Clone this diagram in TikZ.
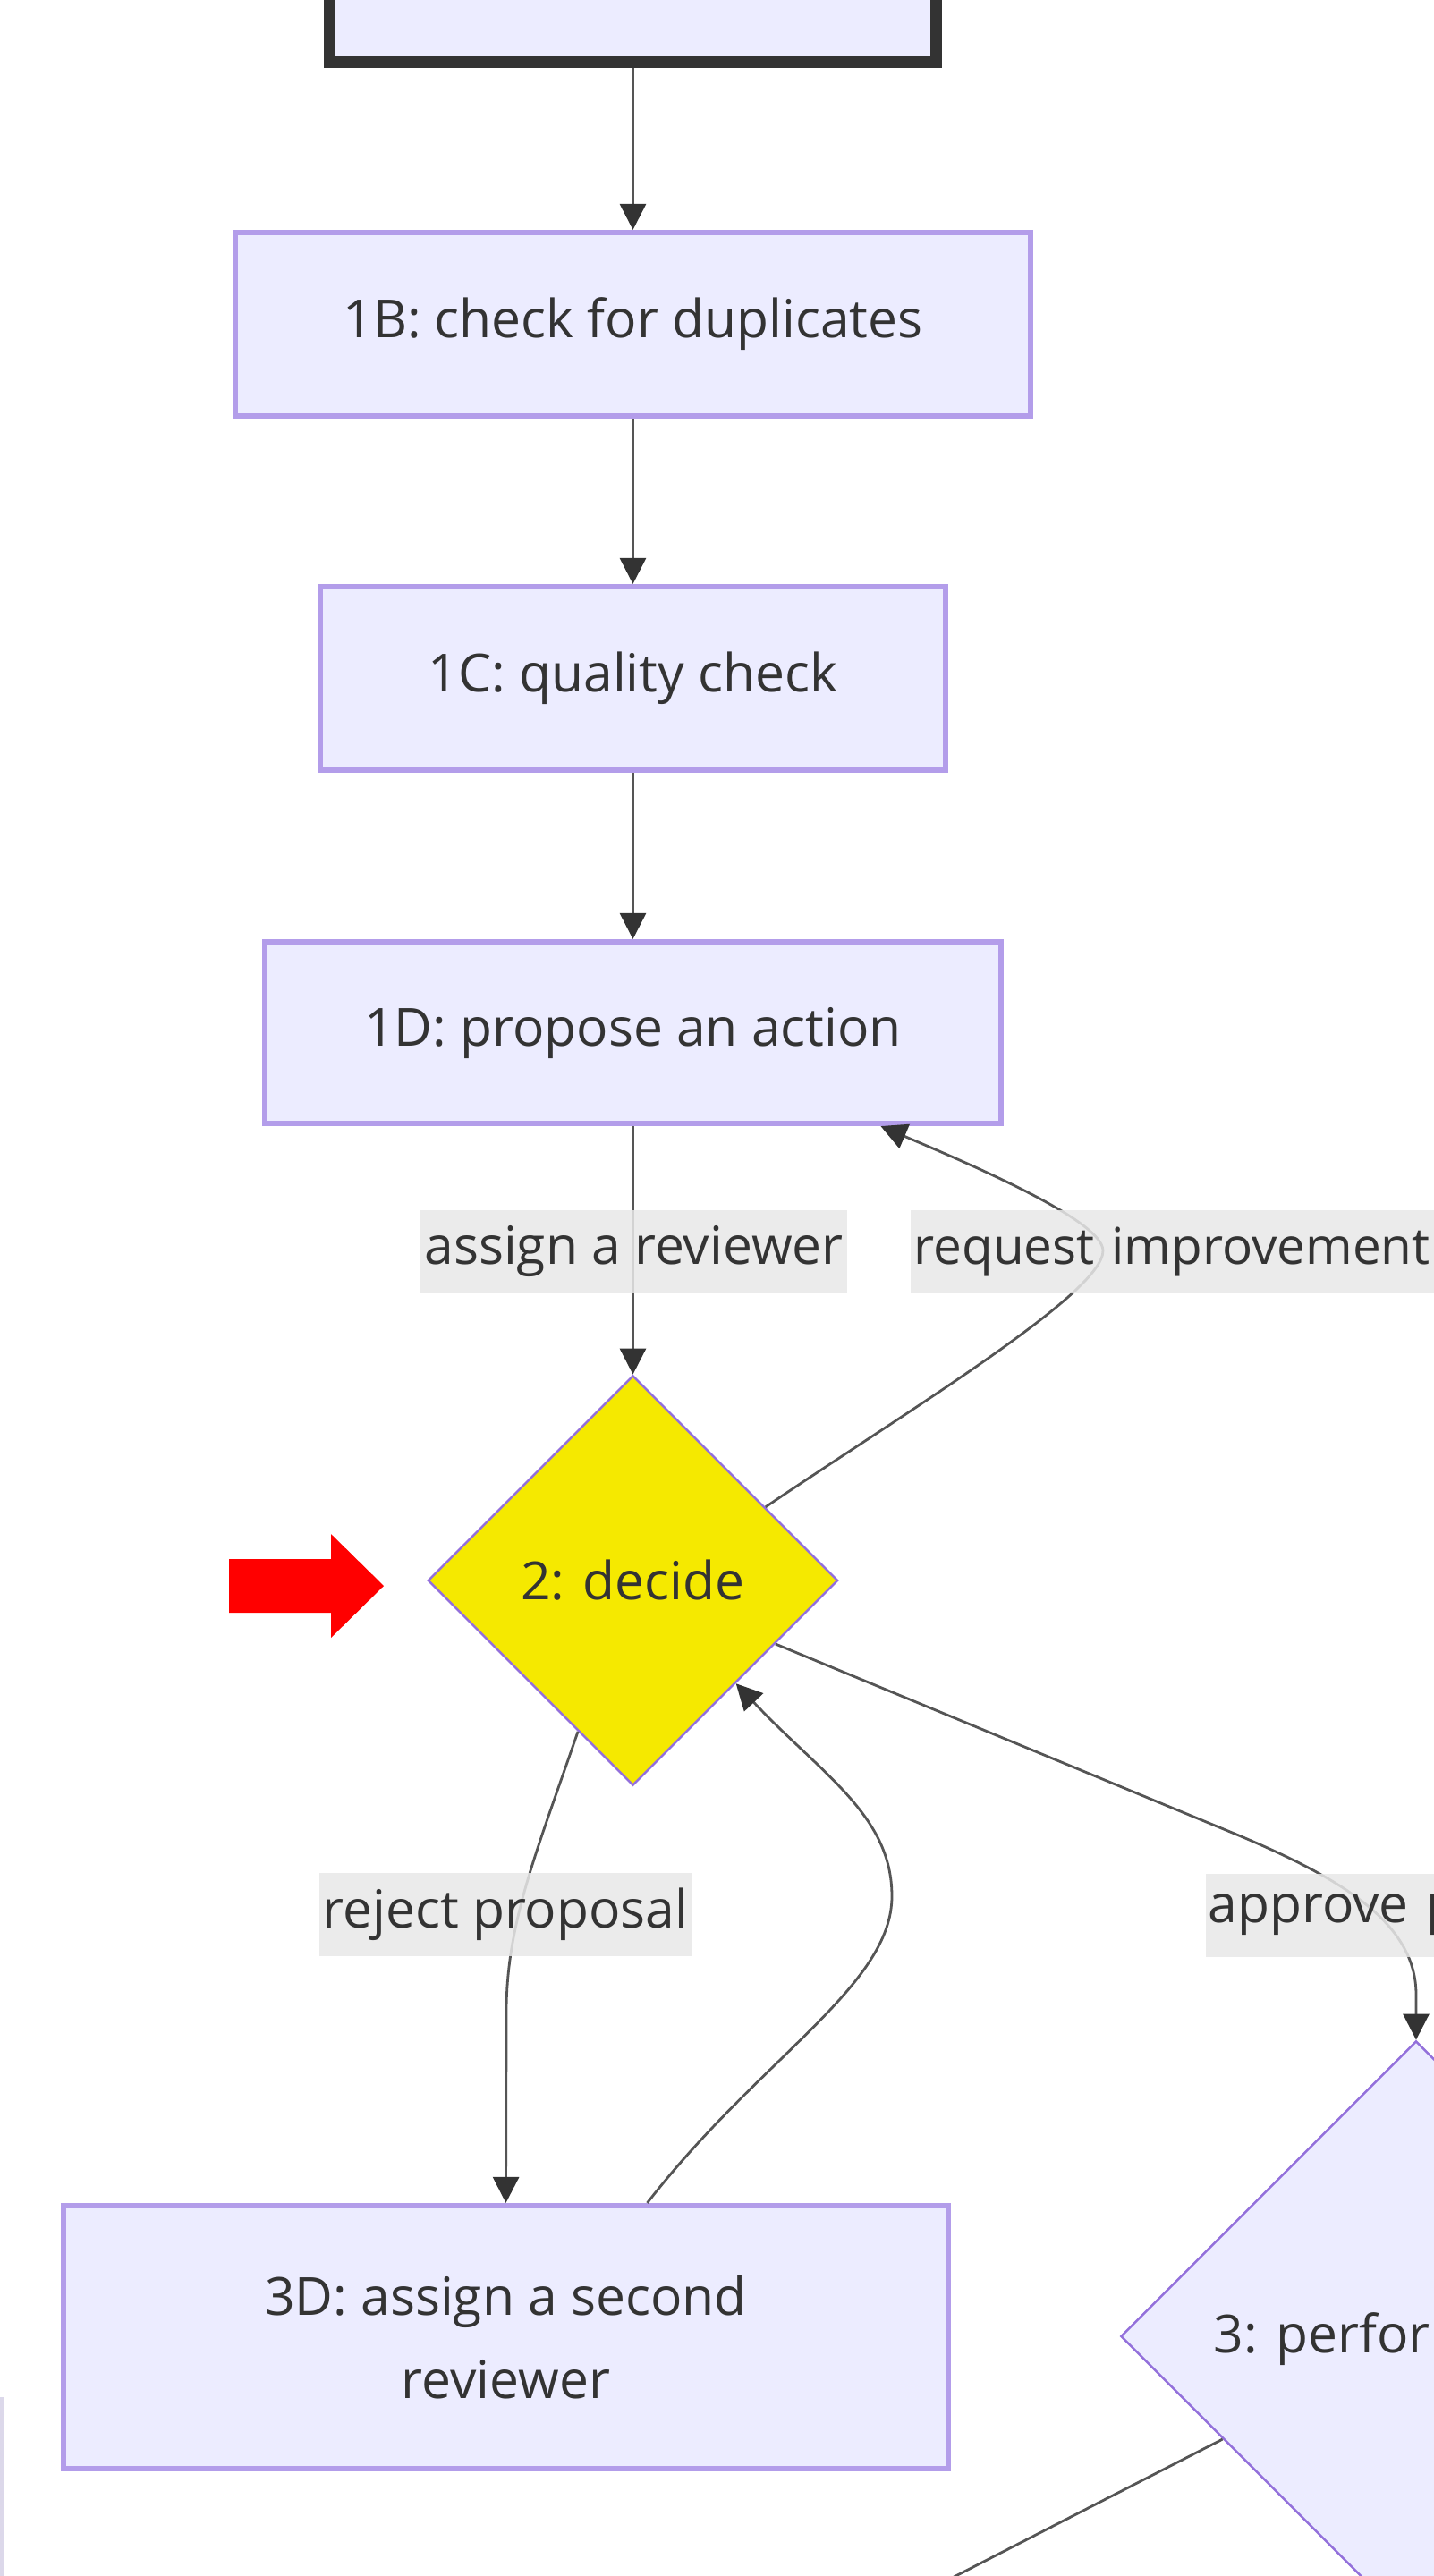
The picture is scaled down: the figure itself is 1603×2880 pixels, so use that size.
\documentclass[tikz,border=0pt]{standalone}
\usepackage{fontspec}
\setmainfont{Open Sans}
\usetikzlibrary{shapes.geometric,arrows.meta,calc}

\definecolor{nodefill}{HTML}{ECECFF}
\definecolor{nodeline}{HTML}{B39DEA}
\definecolor{fadeline}{HTML}{DCD8EA}
\definecolor{diamline}{HTML}{9370DB}
\definecolor{darkline}{HTML}{333333}
\definecolor{edgeline}{HTML}{555555}
\definecolor{labelbg}{HTML}{E8E8E8}
\definecolor{decidefill}{HTML}{F5E900}
\newcommand{\flowfont}{\fontsize{16.7}{26.2}\selectfont}

\begin{document}
\begin{tikzpicture}[
        x=0.01cm, y=-0.01cm,
        box/.style={rectangle, draw=nodeline, line width=0.06cm, fill=nodefill, text=darkline, font=\flowfont, minimum height=2.05cm},
        topbox/.style={rectangle, draw=darkline, line width=0.13cm, fill=nodefill, minimum height=1.98cm},
        decision/.style={diamond, aspect=1, draw=diamline, line width=0.025cm, fill=nodefill, text=darkline, font=\flowfont, inner sep=0pt},
        edgelabel/.style={fill=labelbg, fill opacity=0.85, text opacity=1, text=darkline, font=\flowfont, inner xsep=0.04cm, inner ysep=0pt, minimum height=0.93cm},
        link/.style={draw=edgeline, line width=0.028cm, -{Triangle[length=0.29cm, width=0.29cm, color=darkline]}}
    ]
        \useasboundingbox (0,0) rectangle (1603,2880);
        \clip (0,0) rectangle (1603,2880);
        \fill[white] (0,0) rectangle (1603,2880);

        \node[topbox, minimum width=6.77cm] (start) at (707.5,-30) {};
        \node[box, minimum width=8.88cm] (dup) at (707.5,362.5) {1B: check for duplicates};
        \node[box, minimum width=6.99cm] (quality) at (707.5,758.5) {1C: quality check};
        \node[box, minimum width=8.23cm, minimum height=2.03cm] (propose) at (707.5,1154.5) {1D: propose an action};
        \node[decision, fill=decidefill, minimum width=4.58cm, minimum height=4.58cm] (decide) at (707.5,1767) {2: decide};
        \node[box, minimum width=9.89cm, minimum height=2.94cm, align=center] (second) at (565.5,2613) {3D: assign a second\\reviewer};
        \node[decision, minimum width=6.6cm, minimum height=6.6cm] (perform) at (1583,2612) {};
        \node[anchor=base west, inner sep=0pt, text=darkline, font=\flowfont] (performtext) at (1356,2630) {3: perform};
        \node[box, draw=fadeline, minimum width=4cm, minimum height=3cm, anchor=north east] (leftbox) at (5,2680) {};
        \coordinate (offbelow) at (1000,2915);

        % pointer
        \fill[red] (256,1743) -- (370,1743) -- (370,1715) -- (429,1773) -- (370,1831) -- (370,1803) -- (256,1803) -- cycle;

        \draw[link] (start) -- (dup);
        \draw[link] (dup) -- (quality);
        \draw[link] (quality) -- (propose);
        \draw[link] (propose) -- (decide);
        \draw[link] (decide.29) .. controls (1015,1577) and (1234,1445) .. (1233,1398)
            .. controls (1232,1365) and (1095,1306) .. ($(propose.south)+(277,0)$);
        \draw[link] (decide.-24) -- (1380,2050) .. controls (1500,2100) and (1583,2150) .. (1583,2230) -- (perform.north);
        \draw[link] (decide.250) .. controls (600,2070) and (566,2150) .. (566,2250) -- (second.north);
        \draw[link] ($(second.north)+(158,0)$) .. controls (850,2300) and (997,2220) .. (997,2120)
            .. controls (997,2030) and (920,1985) .. (decide.-45);
        \draw[link, -] (perform.208) -- (offbelow);

        \node[edgelabel] (assignlbl) at (708.5,1399) {assign a reviewer};
        \node[edgelabel, anchor=west, text width=6.5cm, align=left, inner xsep=0.04cm, font=\fontsize{16.1}{26.2}\selectfont] (requestlbl) at (1017,1399) {request improvement};
        \node[edgelabel] (rejectlbl) at (565,2140.5) {reject proposal};
        \node[edgelabel, anchor=west, text width=3cm, align=left, inner xsep=0.03cm] (approvelbl) at (1347,2141) {approve p};
    \end{tikzpicture}
\end{document}
